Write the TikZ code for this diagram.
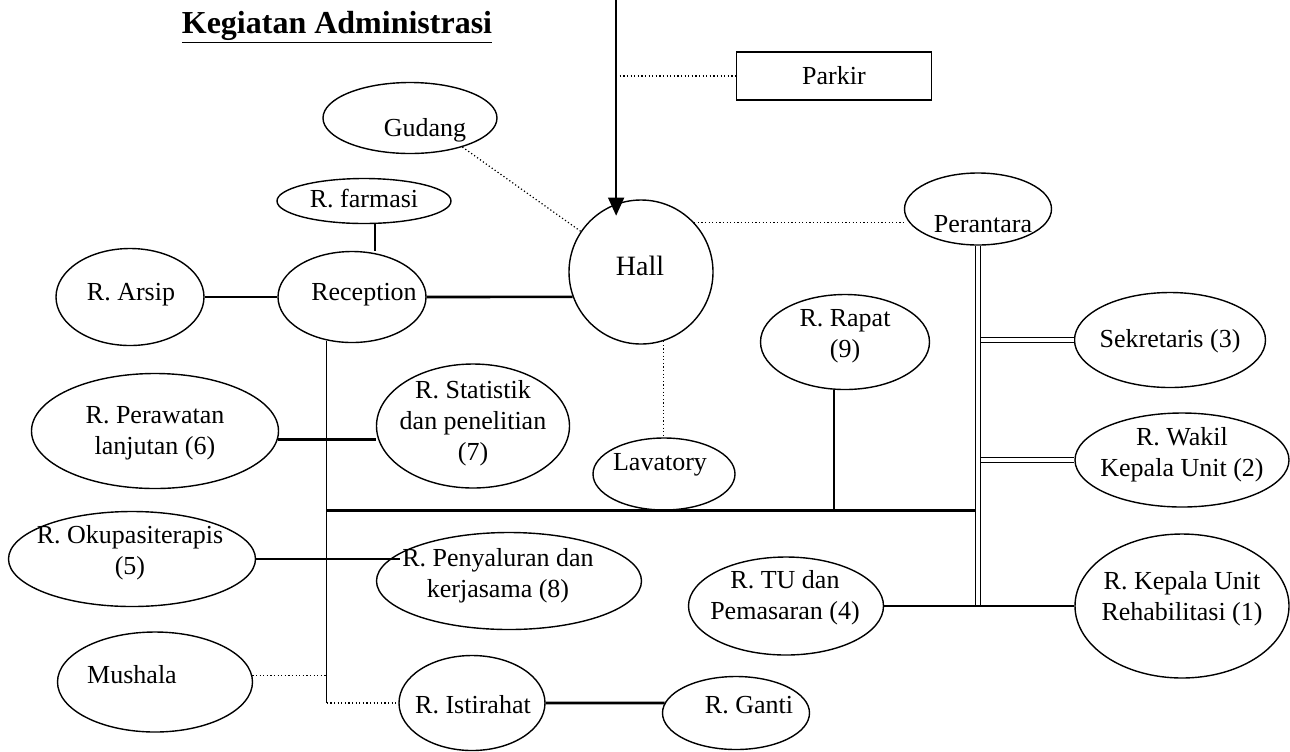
\documentclass[tikz,border=0pt]{standalone}
\usepackage{fontspec}
\setmainfont{Liberation Serif}
\usetikzlibrary{shapes.geometric,arrows.meta}
\begin{document}
\begin{tikzpicture}[x=0.5pt,y=-0.5pt,
 room/.style={draw, ellipse, line width=0.7pt, inner sep=0pt},
 box/.style={draw, rectangle, line width=0.7pt, inner sep=0pt},
 sz/.style 2 args={minimum width=#1*0.5pt, minimum height=#2*0.5pt},
 lbl/.style={font=\fontsize{13}{15.5}\selectfont, align=center, inner sep=0pt},
 thickln/.style={line width=1.3pt},
 thinln/.style={line width=0.6pt},
 dotln/.style={line width=0.6pt, dash pattern=on 0.6pt off 1.2pt},
 dbl/.style={double, double distance=2pt, line width=0.55pt},
 arrowln/.style={line width=0.7pt, -{Triangle[length=9pt,width=8pt]}}
]
\useasboundingbox (0,0) rectangle (1290,751);

% title
\node[font=\fontsize{16}{19}\selectfont\bfseries, anchor=base] (title) at (337,33) {\underline{Kegiatan Administrasi}};

% shapes
\node[box, sz={195}{48}] (parkir) at (834,76) {};
\node[room, sz={174}{71}] (gud) at (410,118) {};
\node[room, sz={174}{45}] (farm) at (364,201) {};
\node[room, sz={148}{97}] (arsip) at (130,297) {};
\node[room, sz={148}{91}] (recep) at (352,297) {};
\node[draw, circle, line width=0.7pt, minimum size=72pt, inner sep=0pt] (hall) at (641,272) {};
\node[room, sz={147}{72}] (peran) at (978,209) {};
\node[room, sz={191}{95}] (sek) at (1170,340) {};
\node[room, sz={169}{95}] (rapat) at (845,342) {};
\node[room, sz={214}{94}] (wakil) at (1182,460) {};
\node[room, sz={214}{144}] (kepala) at (1182,606) {};
\node[room, sz={195}{98}] (tu) at (786,606) {};
\node[room, sz={142}{72}] (lav) at (664,474) {};
\node[room, sz={193}{124}] (stat) at (473,426) {};
\node[room, sz={247}{115}] (pera) at (155,431) {};
\node[room, sz={247}{95}] (okup) at (132,559) {};
\node[room, sz={265}{97}] (peny) at (509,581) {};
\node[room, sz={195}{100}] (mush) at (155,682) {};
\node[room, sz={146}{95}] (ist) at (472,703) {};
\node[room, sz={147}{73}] (ganti) at (736,713) {};

% texts
\node[lbl] (parkirt) at (834,76) {Parkir};
\node[lbl] (gudt) at (425,130) {Gudang};
\node[lbl] (farmt) at (364,199) {R. farmasi};
\node[lbl] (arsipt) at (131,295) {R. Arsip};
\node[lbl] (recept) at (364,295) {Reception};
\node[font=\fontsize{14}{16}\selectfont, inner sep=0pt] (hallt) at (640,266) {Hall};
\node[lbl] (perant) at (983,224) {Perantara};
\node[lbl] (sekt) at (1170,341) {Sekretaris (3)};
\node[lbl] (rapatt) at (845,336) {R. Rapat\\(9)};
\node[lbl] (wakilt) at (1182,455) {R. Wakil\\Kepala Unit (2)};
\node[lbl] (kepalat) at (1182,599) {R. Kepala Unit\\Rehabilitasi (1)};
\node[lbl] (tut) at (785,598) {R. TU dan\\Pemasaran (4)};
\node[lbl] (lavt) at (660,465) {Lavatory};
\node[lbl] (statt) at (473,423) {R. Statistik\\dan penelitian\\(7)};
\node[lbl] (perat) at (155,433) {R. Perawatan\\lanjutan (6)};
\node[lbl] (okupt) at (130,553) {R. Okupasiterapis\\(5)};
\node[lbl] (penyt) at (498,576) {R. Penyaluran dan\\kerjasama (8)};
\node[lbl] (musht) at (132,675) {Mushala};
\node[lbl] (istt) at (473,705) {R. Istirahat};
\node[lbl] (gantit) at (749,705) {R. Ganti};

% entrance arrow and dotted links
\coordinate (top) at (hall.110 |- 0,0);
\draw[arrowln] (top) -- ([yshift=-6pt]hall.110);
\draw[dotln] (top |- parkir.west) -- (parkir.west);
\draw[dotln] (gud.-29) -- (hall.146);
\draw[dotln] (hall.43) -- (hall.43 -| peran.west);
\draw[dotln] (hall.-72) -- (hall.-72 |- lav.north);

% left trunk
\coordinate (vt) at (recep.-120);
\draw[thinln] ([xshift=5.5pt]farm.south) -- ([xshift=5.5pt]farm.south |- recep.north);
\draw[thickln] (arsip) -- (recep);
\draw[thickln] (recep.east) -- (hall.200);
\draw[thinln] (vt) -- (vt |- ist.west);
\draw[dotln] (vt |- ist.west) -- (ist.west);
\draw[dotln] (mush.4.75) -- (mush.4.75 -| vt);
\draw[thickln] (pera.-4.2) -- (pera.-4.2 -| stat.west);
\coordinate (pe) at ([xshift=12pt]peny.west);
\draw[thickln] (okup.east) -- (okup.east -| pe);
\draw[thickln] (ist.east) -- (ganti.172);

% right trunk
\coordinate (jn) at (peran.south |- tu.east);
\draw[dbl] (peran.south) -- (jn);
\draw[thickln] (vt |- lav.south) -- ([xshift=-1.25pt]peran.south |- lav.south);
\draw[thinln] ([xshift=-5.5pt]rapat.south) -- ([xshift=-5.5pt]rapat.south |- lav.south);
\draw[dbl] ([xshift=1.25pt]peran.south |- sek.west) -- (sek.west);
\draw[dbl] ([xshift=1.25pt]peran.south |- wakil.west) -- (wakil.west);
\draw[thickln] (tu.east) -- (kepala.west);
\end{tikzpicture}
\end{document}
